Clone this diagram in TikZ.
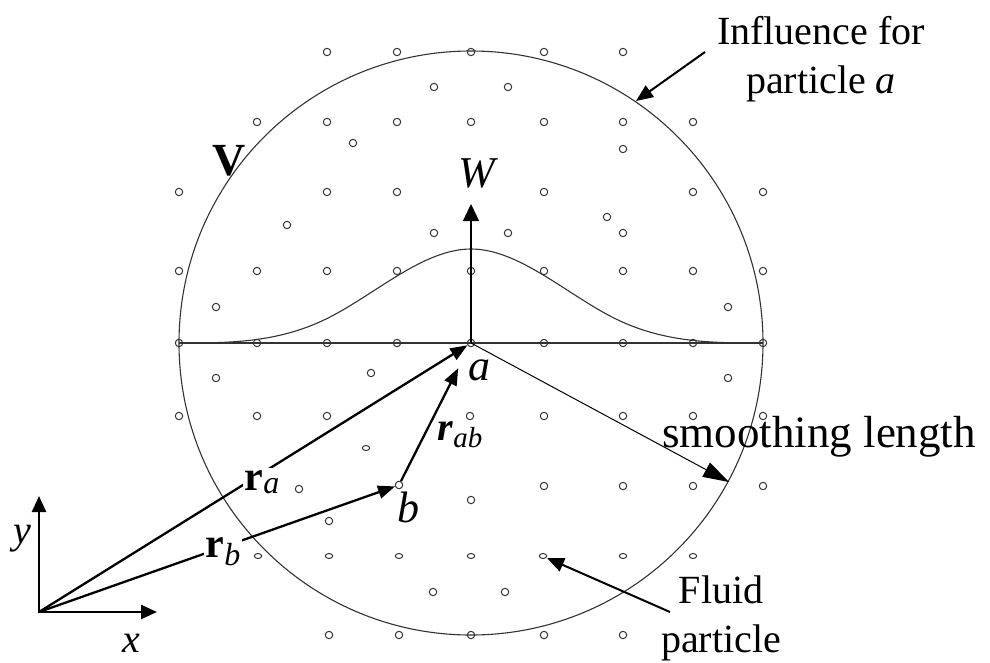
\documentclass[tikz,border=0pt]{standalone}
\usepackage{fontspec}
\setmainfont{Liberation Serif}
\usetikzlibrary{arrows.meta}
\definecolor{pgray}{HTML}{333333}
\begin{document}
\begin{tikzpicture}[x=1pt,y=-1pt,
  declare function={kern(\q)=(\q<1)*(1-1.5*\q*\q+0.75*\q*\q*\q)+(\q>=1)*0.25*(2-\q)*(2-\q)*(2-\q);},
  part/.style={circle,draw=pgray,line width=1pt,minimum size=7.5pt,inner sep=0pt},
  ptc/.style={draw=pgray,line width=1pt},
  thinline/.style={draw=pgray,line width=1.1pt},
  vecarrow/.style={line width=2.3pt,-{Triangle[length=17pt,width=13pt]}},
  axisarrow/.style={line width=2.5pt,{Triangle[length=16pt,width=14pt]}-{Triangle[length=16pt,width=14pt]}},
  callout/.style={line width=2pt,-{Triangle[length=17pt,width=14pt]}},
  lbl/.style={inner sep=0pt,anchor=base},
  big/.style={font=\fontsize{40}{49}\selectfont},
  itl/.style={font=\fontsize{44}{50}\selectfont\itshape},
]
\useasboundingbox (0,0) rectangle (990,662);

% influence circle and axis of the kernel
\node[part] (a) at (471,343) {};
\node[part] (b) at (399,485) {};
\draw[thinline] (a.center) circle[radius=292pt];
\coordinate (L) at (179,343);
\coordinate (R) at (763,343);
\draw[thinline] (L) -- (R);

% kernel curve
\draw[thinline] plot[domain=-292:292,samples=161,variable=\t] ({471+\t},{343-94*kern(abs(\t)/146)});

% particles
\foreach \px/\py in {
 327/52,397/52,471/52,544/52,623/52,
 434/87,508/87,
 257/122,327/122,397/122,471/122,544/122,623/122,693/122,
 353/143,623/149,
 179/192,327/192,397/192,544/192,693/192,763/192,
 607/217,287/225,434/233,508/233,623/233,
 179/271,257/271,327/271,397/271,471/271,544/271,623/271,693/271,763/271,
 216/307,728/307,
 179/343,257/343,327/343,397/343,544/343,623/343,693/343,763/343,
 371/373,216/378,728/378,
 179/416,257/416,327/416,470/416,544/416,623/416,693/416,763/416,
 299/489,544/486,623/486,693/486,763/486,
 471/500,329/521,
 433/592,505/592,
 329/635,399/635,471/635,544/635,623/635}
 {\draw[ptc] (\px,\py) circle[radius=3.7pt];}
\foreach \px/\py in {366/448,258/556,329/556,399/556,471/556,543/556,623/556,693/556}
 {\draw[ptc] (\px,\py) ellipse[x radius=3.7pt,y radius=2.5pt];}

% W axis
\coordinate (Wtip) at (471,204);
\draw[line width=1.3pt,-{Triangle[length=17pt,width=16pt]}] (a.center) -- (Wtip);
\node[itl,lbl] (Wl) at (477,187) {W};

% smoothing length
\coordinate (Send) at (729,482);
\draw[line width=1pt,-{Triangle[length=26pt,width=16pt]}] (a.center) -- (Send);
\node[font=\fontsize{45}{54}\selectfont,anchor=base west,inner sep=0pt] (sl) at (662,447) {smoothing length};

% axes
\coordinate (O) at (39,612);
\coordinate (Xend) at (157,612);
\coordinate (Yend) at (39,496);
\draw[axisarrow] (Yend) -- (O) -- (Xend);
\node[font=\fontsize{40}{48}\selectfont\itshape,lbl] (yl) at (22,543) {y};
\node[font=\fontsize{40}{48}\selectfont\itshape,lbl] (xl) at (131,652) {x};

% position vectors
\draw[vecarrow] (O) -- (a);
\draw[vecarrow] (O) -- (b);
\draw[vecarrow,shorten >=24pt] (b) -- (a);
\node[lbl,fill=white,inner sep=2pt] (ral) at (262,490)
 {\fontsize{42}{48}\selectfont\textbf{r}\raisebox{-3pt}{\fontsize{32}{36}\selectfont\itshape a}};
\node[lbl,fill=white,inner sep=2pt] (rbl) at (223,557)
 {\fontsize{42}{48}\selectfont\textbf{r}\raisebox{-8pt}{\fontsize{32}{36}\selectfont\itshape b}};
\node[lbl] (rabl) at (460,440)
 {\fontsize{40}{44}\selectfont\textbf{\textit{r}}\raisebox{-7pt}{\fontsize{29}{34}\selectfont\itshape ab}};
\node[itl,lbl] (al) at (479,380) {a};
\node[itl,lbl] (bl) at (408,522) {b};

% V
\node[font=\fontsize{46}{50}\selectfont\bfseries,lbl] (Vl) at (229,175) {V};

% callouts
\node[big,align=center,anchor=north,inner sep=0pt] (infl) at (821,15.7) {Influence for\\particle \textit{a}};
\coordinate (inflstart) at (705,52);
\coordinate (infltip) at (636,101);
\draw[callout] (inflstart) -- (infltip);

\node[big,align=center,anchor=north,inner sep=0pt] (fluid) at (721,575.7) {Fluid\\particle};
\coordinate (fluidstart) at (670,612);
\coordinate (fluidtip) at (547,558);
\draw[callout] (fluidstart) -- (fluidtip);
\end{tikzpicture}
\end{document}
